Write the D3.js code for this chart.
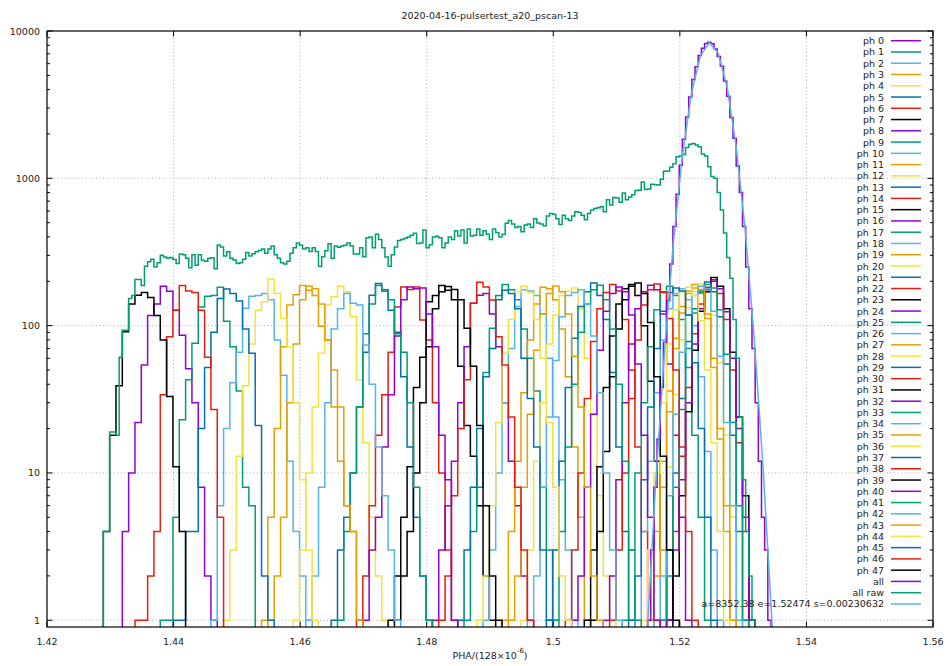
<!DOCTYPE html>
<html>
<head>
<meta charset="utf-8">
<script src="https://cdn.jsdelivr.net/npm/d3@7"></script>
<style>
  body { margin: 0; background: #fff; }
  svg text { font-family: "DejaVu Sans", sans-serif; fill: #222; }
</style>
</head>
<body>
<svg id="chart" width="949" height="666"></svg>
<script>
// ---- data -------------------------------------------------------------
const chartTitle = "2020-04-16-pulsertest_a20_pscan-13";
const xTickValues = [1.42, 1.44, 1.46, 1.48, 1.50, 1.52, 1.54, 1.56];
const xTickLabels = ["1.42", "1.44", "1.46", "1.48", "1.5", "1.52", "1.54", "1.56"];
const yTickValues = [1, 10, 100, 1000, 10000];
const yTickLabels = ["1", "10", "100", "1000", "10000"];

// common bin grid
const binOrigin = 1.4289;
const phBinWidth = 0.001;     // per-phase histograms
const fineBinWidth = 0.0005;  // "all" and "all raw"

// first bin (in units of phBinWidth from binOrigin) and counts for each phase
const phFirstBin = [3, 9, 17, 25, 30, 36, 40, 45, 52, 57, 60, 63, 66, 70, 73, 76,
  79, 82, 84, 86, 87, 88, 89, 89, 89, 88, 87, 86, 85, 83, 80, 77,
  74, 71, 67, 64, 59, 56, 53, 46, 41, 37, 32, 26, 19, 11, 5, 0];
const phCounts = [
  [4,10,22,54,117,140,185,171,127,86,51,30,8,2,1],
  [1,1,5,23,43,76,134,158,160,182,107,72,36,8,6],
  [1,6,20,41,66,131,158,160,165,150,80,46,12,4,2,1],
  [1,5,20,72,138,162,187,174,160,99,80,28,12,6,4,1],
  [1,3,10,28,65,138,157,185,170,115,43,16,5,2,1],
  [1,3,5,10,28,66,161,193,175,127,90,45,15,5,2,1],
  [1,2,6,18,34,66,134,183,176,183,109,80,30,10,3,1],
  [1,2,5,11,38,61,145,160,187,174,150,53,21,13,6,2,1],
  [1,3,6,12,30,72,142,161,165,120,72,30,12,6,2,1],
  [1,4,8,48,96,160,190,175,150,95,60,36,8,3,1],
  [1,3,10,30,70,135,175,172,160,120,60,24,9,3,1],
  [1,4,12,35,80,140,182,178,150,95,45,15,5,1],
  [1,3,12,30,75,118,160,172,180,130,60,25,7,2,1],
  [1,3,12,38,82,135,170,195,160,110,48,15,4,1],
  [1,3,10,32,78,130,168,190,172,110,50,15,4,1],
  [1,3,11,38,85,140,178,190,160,100,42,12,3,1],
  [1,2,9,30,75,130,170,188,175,120,55,18,5,1],
  [1,3,10,30,72,128,170,185,160,110,52,18,5,1],
  [1,4,12,35,80,130,165,178,150,100,45,14,3,1],
  [1,4,12,36,82,135,172,190,165,112,52,17,4,1],
  [1,3,11,34,80,132,170,192,168,118,56,18,5,1],
  [1,3,10,32,78,130,172,198,170,115,55,18,4,1],
  [1,4,13,38,88,140,182,205,165,110,50,16,4,1],
  [1,2,7,26,68,125,170,212,185,130,66,24,7,1],
  [1,3,9,30,75,130,175,200,178,124,60,20,5,1],
  [1,2,8,27,70,122,168,190,180,128,64,22,6,1],
  [1,2,7,25,66,118,160,185,178,125,62,22,6,1],
  [1,2,8,26,70,122,165,180,176,120,60,20,6,1],
  [1,3,10,30,75,128,170,182,160,108,50,16,4,1],
  [1,2,9,28,70,125,168,180,172,118,56,20,5,1],
  [1,3,10,32,80,138,175,192,168,112,50,15,4,1],
  [1,4,14,45,95,150,185,195,165,105,45,13,3,1],
  [1,2,8,25,68,125,165,183,170,118,55,18,5,1],
  [1,4,15,40,90,140,175,188,150,95,40,12,3,1],
  [1,2,8,24,58,115,160,168,175,140,85,35,10,3,1],
  [1,2,8,25,68,120,165,186,170,120,62,28,8,2,1],
  [1,2,6,22,65,110,170,185,168,110,60,22,8,2,1],
  [1,3,8,20,45,70,150,174,165,130,60,32,15,3,1],
  [1,2,7,20,43,142,197,183,149,84,54,24,8,3,1],
  [1,2,4,10,30,72,130,170,184,176,150,96,53,21,6,2,1],
  [1,3,5,15,34,85,150,183,178,180,120,72,18,9,1],
  [1,4,10,28,88,140,187,171,150,88,66,30,8,2,1],
  [1,2,8,30,95,130,165,142,138,74,40,15,7,3,1],
  [1,2,5,30,75,150,185,178,140,80,50,28,6,4,1],
  [1,3,13,39,75,127,145,207,165,112,72,30,9,3,1],
  [1,1,4,4,20,52,90,153,177,165,147,95,65,21,2,1],
  [1,1,2,4,34,84,127,187,172,168,127,61,27,5],
  [4,18,39,91,140,161,168,155,117,80,33,11,4]
];

// phase-aligned sum ("all"), fine bins starting at fine-bin index 172
const allFirstBin = 172;
const allCounts = [1,3,8,17,38,77,148,262,470,781,1225,1840,2610,3570,4690,5720,6810,7650,8240,8390,
  8200,7540,6700,5760,4580,3600,2590,1870,1210,800,470,250,130,70,30,12,5,3,1];

// raw sum ("all raw"), fine bins starting at the origin
const rawFirstBin = 0;
const rawCounts = [4,4,19,19,18,61,93,93,153,160,206,206,187,
  253,271,282,250,267,300,292,287,290,281,264,306,303,287,247,303,257,303,278,274,287,289,243,353,342,297,317,
  287,279,264,267,282,314,297,307,317,324,331,310,331,347,303,287,267,262,274,310,338,364,351,331,338,319,338,319,
  253,294,322,359,287,347,340,347,351,364,347,306,306,338,294,395,399,338,417,385,338,292,253,303,342,379,385,392,
  399,410,424,361,364,445,338,354,399,404,395,338,364,399,385,440,406,445,364,452,406,411,452,410,440,417,385,452,
  428,399,417,495,517,490,464,470,433,482,490,464,531,498,490,477,554,576,570,531,485,561,531,517,554,592,585,561,
  523,576,609,624,630,641,592,715,659,742,735,688,795,715,746,774,825,830,945,839,845,910,905,900,987,1118,1120,1191,
  1257,1400,1420,1450,1620,1700,1720,1680,1640,1460,1420,1200,1030,1000,800,610,425,290,210,110,60,24,9,4,2,1];

// Gaussian fit parameters
const fitA = 8352.38, fitE = 1.52474, fitS = 0.00230632;
const fitSamples = 100;

const palette = ["#9400d3", "#009e73", "#56b4e9", "#e69f00", "#f0e442", "#0072b2", "#e51e10", "#000000"];

// ---- layout -------------------------------------------------------------
const W = 949, H = 666;
const plot = { left: 47, right: 933, top: 31, bottom: 627 };
const fontSize = 9.5;

const svg = d3.select("#chart");
const x = d3.scaleLinear().domain([1.42, 1.56]).range([plot.left, plot.right]);
const y = d3.scaleLog().domain([0.9, 10000]).range([plot.bottom, plot.top]);

svg.append("defs").append("clipPath").attr("id", "plotClip")
  .append("rect")
  .attr("x", plot.left).attr("y", plot.top)
  .attr("width", plot.right - plot.left).attr("height", plot.bottom - plot.top);

// grid
const grid = svg.append("g").attr("stroke", "#a8a8a8").attr("stroke-width", 0.9)
  .attr("stroke-dasharray", "1,2.5");
xTickValues.slice(1, -1).forEach(t => {
  grid.append("line").attr("x1", x(t)).attr("x2", x(t)).attr("y1", plot.top).attr("y2", plot.bottom);
});
yTickValues.slice(0, -1).forEach(t => {
  grid.append("line").attr("x1", plot.left).attr("x2", plot.right).attr("y1", y(t)).attr("y2", y(t));
});

// histogram step path
const floorY = plot.bottom + 6;
function stepPath(lo, width, counts) {
  const yy = v => (v > 0 ? y(v) : floorY);
  let d = `M${x(lo)},${floorY}`;
  counts.forEach((c, i) => {
    const x0 = x(lo + i * width), x1 = x(lo + (i + 1) * width);
    d += `L${x0},${yy(c)}L${x1},${yy(c)}`;
  });
  d += `L${x(lo + counts.length * width)},${floorY}`;
  return d;
}

const marks = svg.append("g").attr("clip-path", "url(#plotClip)")
  .attr("fill", "none").attr("stroke-width", 1.5).attr("stroke-linejoin", "miter");

phCounts.forEach((counts, i) => {
  marks.append("path")
    .attr("d", stepPath(binOrigin + phFirstBin[i] * phBinWidth, phBinWidth, counts))
    .attr("stroke", palette[i % 8]);
});

marks.append("path")
  .attr("d", stepPath(binOrigin + allFirstBin * fineBinWidth, fineBinWidth, allCounts))
  .attr("stroke", palette[48 % 8]);

marks.append("path")
  .attr("d", stepPath(binOrigin + rawFirstBin * fineBinWidth, fineBinWidth, rawCounts))
  .attr("stroke", palette[49 % 8]);

// fitted Gaussian, sampled across the x range
const fitPts = d3.range(fitSamples).map(k => {
  const xv = 1.42 + k * (1.56 - 1.42) / (fitSamples - 1);
  return [xv, fitA * Math.exp(-((xv - fitE) ** 2) / (2 * fitS * fitS))];
}).filter(p => p[1] > 0);
marks.append("path")
  .attr("d", d3.line().x(p => x(p[0])).y(p => y(p[1]))(fitPts))
  .attr("stroke", palette[50 % 8]);

// frame
svg.append("rect")
  .attr("x", plot.left).attr("y", plot.top)
  .attr("width", plot.right - plot.left).attr("height", plot.bottom - plot.top)
  .attr("fill", "none").attr("stroke", "#000").attr("stroke-width", 1.2);

// ticks
const ticks = svg.append("g").attr("stroke", "#000").attr("stroke-width", 1);
const majorLen = 5.5, minorLen = 3;
xTickValues.forEach(t => {
  ticks.append("line").attr("x1", x(t)).attr("x2", x(t)).attr("y1", plot.bottom).attr("y2", plot.bottom - majorLen);
  ticks.append("line").attr("x1", x(t)).attr("x2", x(t)).attr("y1", plot.top).attr("y2", plot.top + majorLen);
});
yTickValues.forEach(t => {
  ticks.append("line").attr("x1", plot.left).attr("x2", plot.left + majorLen).attr("y1", y(t)).attr("y2", y(t));
  ticks.append("line").attr("x1", plot.right).attr("x2", plot.right - majorLen).attr("y1", y(t)).attr("y2", y(t));
});
[1, 10, 100, 1000].forEach(dec => {
  d3.range(2, 10).forEach(m => {
    const v = m * dec;
    ticks.append("line").attr("x1", plot.left).attr("x2", plot.left + minorLen).attr("y1", y(v)).attr("y2", y(v));
    ticks.append("line").attr("x1", plot.right).attr("x2", plot.right - minorLen).attr("y1", y(v)).attr("y2", y(v));
  });
});

// tick labels
const labels = svg.append("g").attr("font-size", fontSize);
xTickValues.forEach((t, i) => {
  labels.append("text").attr("x", x(t)).attr("y", plot.bottom + 14)
    .attr("text-anchor", "middle").attr("dominant-baseline", "central").text(xTickLabels[i]);
});
yTickValues.forEach((t, i) => {
  labels.append("text").attr("x", plot.left - 7).attr("y", y(t))
    .attr("text-anchor", "end").attr("dominant-baseline", "central").text(yTickLabels[i]);
});

// title
svg.append("text").attr("x", (plot.left + plot.right) / 2).attr("y", 15)
  .attr("text-anchor", "middle").attr("dominant-baseline", "central")
  .attr("font-size", fontSize).text(chartTitle);

// x axis label with superscript exponent
const xl = svg.append("text").attr("x", (plot.left + plot.right) / 2).attr("y", 655)
  .attr("text-anchor", "middle").attr("dominant-baseline", "central").attr("font-size", fontSize);
xl.append("tspan").text("PHA/(128×10");
xl.append("tspan").attr("dy", -4).attr("font-size", 7).text("-6");
xl.append("tspan").attr("dy", 4).text(")");

// legend
const legendNames = phCounts.map((_, i) => `ph ${i}`)
  .concat(["all", "all raw", `a=${fitA} e=${fitE} s=${fitS}`]);
const legend = svg.append("g").attr("font-size", fontSize);
legendNames.forEach((name, i) => {
  const ly = 40.7 + i * 11.265;
  legend.append("text").attr("x", 884).attr("y", ly)
    .attr("text-anchor", "end").attr("dominant-baseline", "central").text(name);
  legend.append("line").attr("x1", 891).attr("x2", 921).attr("y1", ly).attr("y2", ly)
    .attr("stroke", palette[i % 8]).attr("stroke-width", 1.5);
});
</script>
</body>
</html>
